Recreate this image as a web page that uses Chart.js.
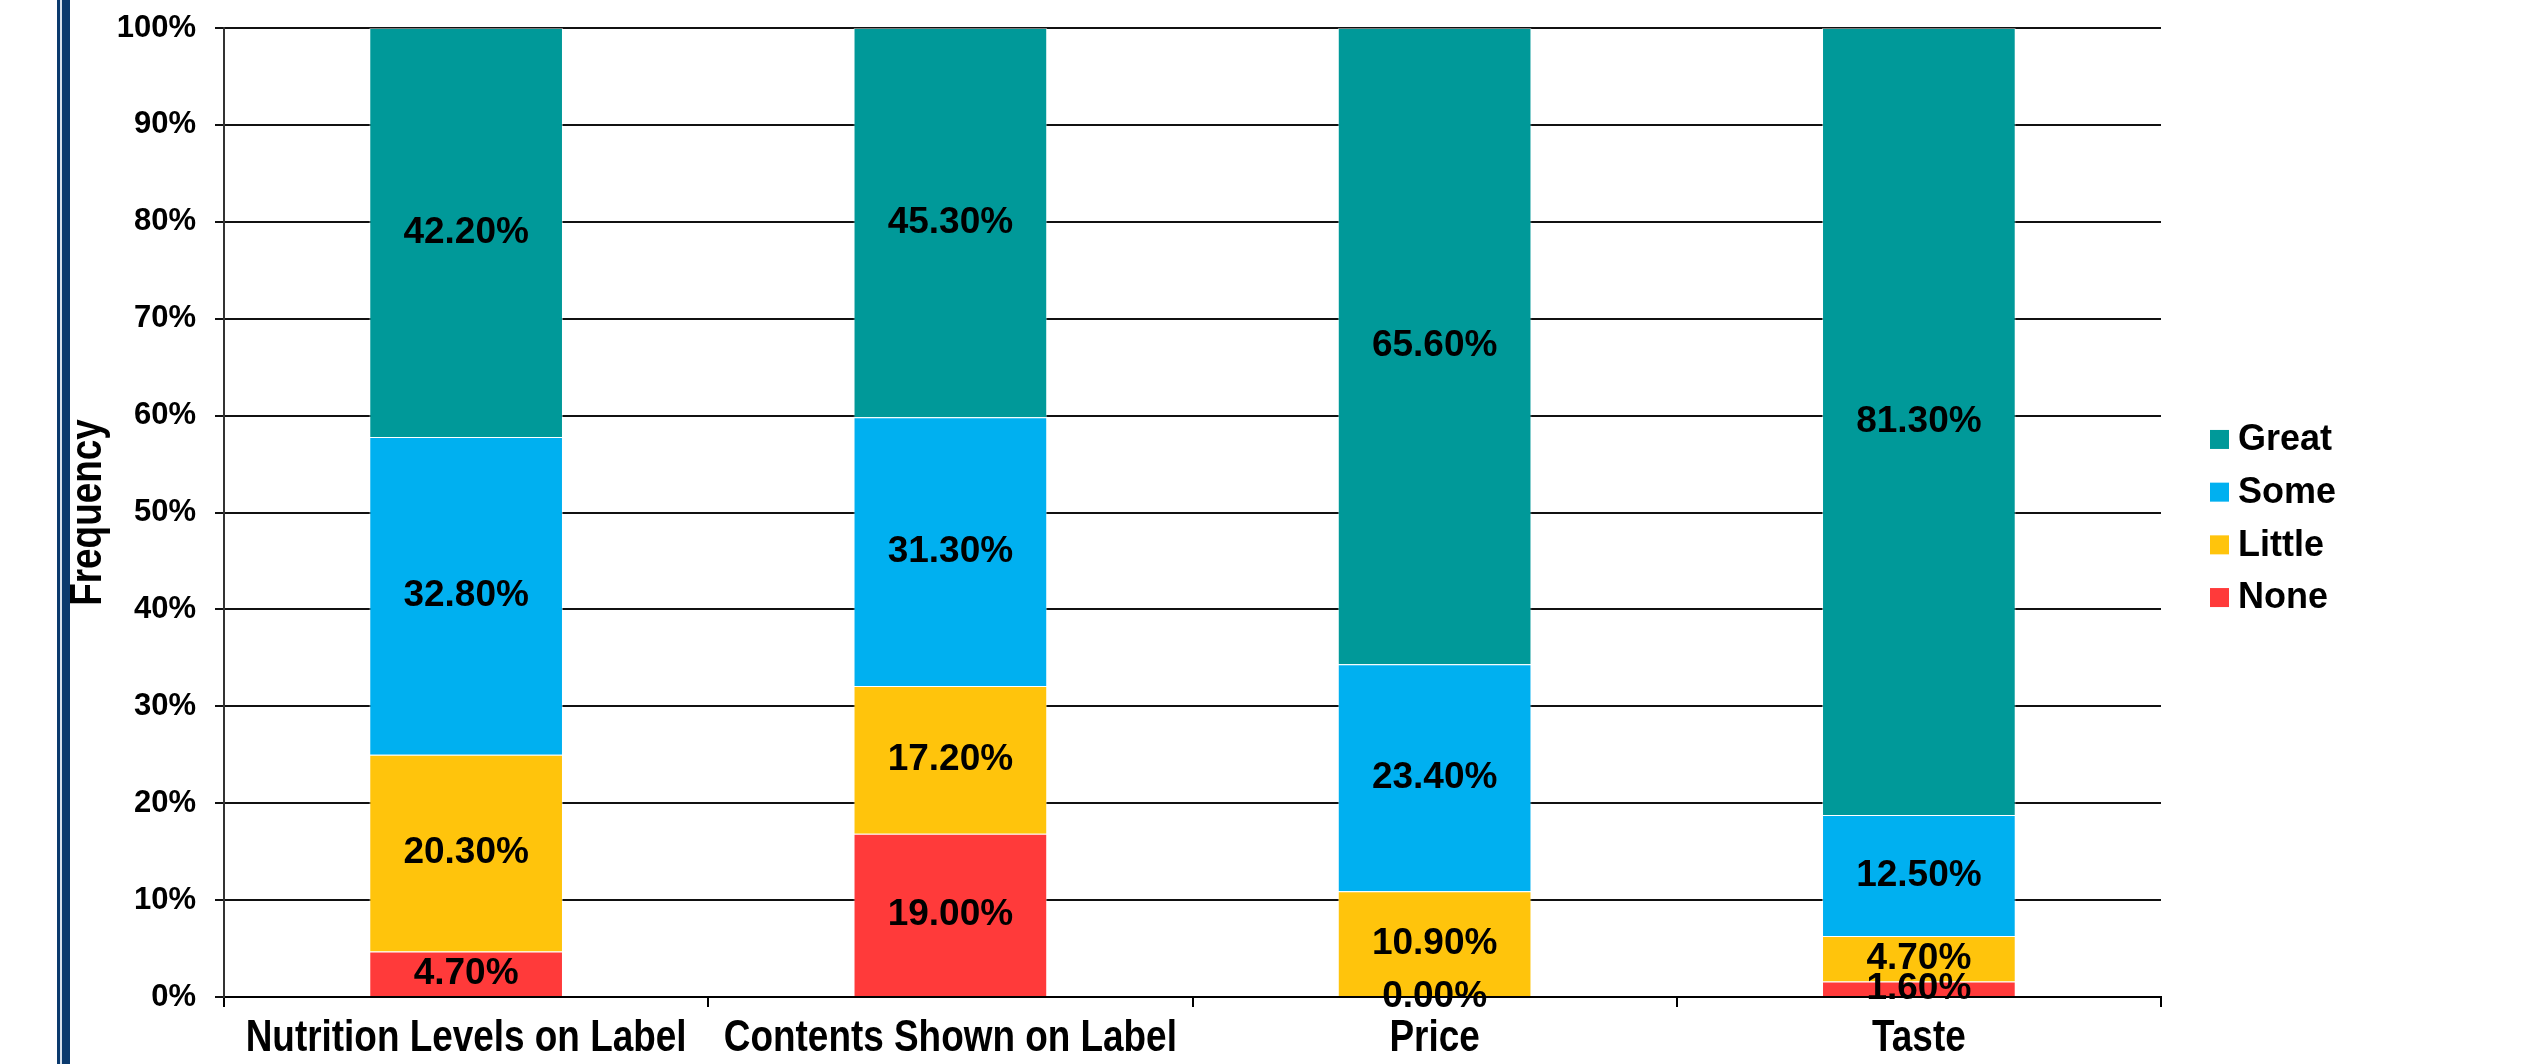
<!DOCTYPE html>
<html>
<head>
<meta charset="utf-8">
<title>Label factors by category</title>
<script src="https://cdn.jsdelivr.net/npm/chart.js@4.4.1/dist/chart.umd.min.js"></script>
<style>
  html, body { margin: 0; padding: 0; background: #fff; }
  #wrap { position: relative; width: 2546px; height: 1064px; overflow: hidden; }
  /* slide edge on the left */
  #edge { position: absolute; left: 57px; top: 0; width: 13px; height: 1064px;
          background: linear-gradient(to right, #0b3a6e 0, #0b3a6e 3px, #d6e0ec 3px, #d6e0ec 5px, #0b3a6e 5px); }
</style>
</head>
<body>
<div id="wrap">
  <div id="edge"></div>
  <canvas id="chart"></canvas>
</div>
<script>
// Survey answers per factor, in percent (rows do not always add up to 100)
const categories = ['Nutrition Levels on Label', 'Contents Shown on Label', 'Price', 'Taste'];
const noneVals   = [4.7, 19.0, 0.0, 1.6];
const littleVals = [20.3, 17.2, 10.9, 4.7];
const someVals   = [32.8, 31.3, 23.4, 12.5];
const greatVals  = [42.2, 45.3, 65.6, 81.3];
const yTicks = [0, 10, 20, 30, 40, 50, 60, 70, 80, 90, 100];
const yTitle = 'Frequency';

const FONT = "'Liberation Sans', Arial, sans-serif";
const NARROW = 0.82; // horizontal squeeze for the narrow-style captions

// 100% stacked: every column is scaled by its own total
const totals = categories.map((_, i) => noneVals[i] + littleVals[i] + someVals[i] + greatVals[i]);
const share = arr => arr.map((v, i) => v / totals[i] * 100);

const series = [
  { label: 'None',   raw: noneVals,   color: '#ff3a3a' },
  { label: 'Little', raw: littleVals, color: '#ffc40c' },
  { label: 'Some',   raw: someVals,   color: '#00b0f0' },
  { label: 'Great',  raw: greatVals,  color: '#009999' }
];

// raw value written in the middle of every segment
const segmentLabels = {
  id: 'segmentLabels',
  afterDatasetsDraw(chart) {
    const ctx = chart.ctx;
    ctx.save();
    ctx.font = 'bold 37px ' + FONT;
    ctx.fillStyle = '#000';
    ctx.textAlign = 'center';
    ctx.textBaseline = 'middle';
    chart.data.datasets.forEach((ds, di) => {
      const meta = chart.getDatasetMeta(di);
      meta.data.forEach((bar, i) => {
        const p = bar.getCenterPoint();
        ctx.fillText(ds.raw[i].toFixed(2) + '%', p.x, p.y);
      });
    });
    ctx.restore();
  }
};

// condensed category captions and the rotated axis title
const narrowText = {
  id: 'narrowText',
  afterDraw(chart) {
    const ctx = chart.ctx;
    const xs = chart.scales.x;
    const area = chart.chartArea;
    ctx.save();
    ctx.font = 'bold 45px ' + FONT;
    ctx.fillStyle = '#000';
    ctx.textAlign = 'center';
    ctx.textBaseline = 'middle';
    chart.data.labels.forEach((lab, i) => {
      ctx.save();
      ctx.translate(xs.getPixelForTick(i), xs.top + 42);
      ctx.scale(NARROW, 1);
      ctx.fillText(lab, 0, 0);
      ctx.restore();
    });
    ctx.save();
    ctx.translate(89, (area.top + area.bottom) / 2);
    ctx.rotate(-Math.PI / 2);
    ctx.scale(NARROW, 1);
    ctx.fillText(yTitle, 0, 0);
    ctx.restore();
    ctx.restore();
  }
};

// legend to the right of the plot, top series first
const sideLegend = {
  id: 'sideLegend',
  afterDraw(chart, args, opts) {
    const ctx = chart.ctx;
    const items = chart.data.datasets.slice().reverse();
    const x = chart.chartArea.right + opts.gap;
    const y0 = (chart.chartArea.top + chart.chartArea.bottom) / 2 - (items.length - 1) * opts.rowHeight / 2 + opts.shift;
    ctx.save();
    ctx.font = 'bold 36px ' + FONT;
    ctx.textBaseline = 'middle';
    ctx.textAlign = 'left';
    items.forEach((ds, i) => {
      const cy = y0 + i * opts.rowHeight;
      ctx.fillStyle = ds.backgroundColor;
      ctx.fillRect(x, cy - opts.box / 2, opts.box, opts.box);
      ctx.fillStyle = '#000';
      ctx.fillText(ds.label, x + opts.box + 9, cy + 1);
    });
    ctx.restore();
  }
};

new Chart(document.getElementById('chart'), {
  type: 'bar',
  data: {
    labels: categories,
    datasets: series.map(s => ({
      label: s.label,
      data: share(s.raw),
      raw: s.raw,
      backgroundColor: s.color,
      borderColor: 'rgba(255,255,255,0.45)',
      borderWidth: 1,
      barPercentage: 0.4,
      categoryPercentage: 1.0
    }))
  },
  options: {
    responsive: true,
    maintainAspectRatio: false,
    animation: false,
    layout: { padding: { left: 60, top: 28, right: 385, bottom: 0 } },
    plugins: {
      legend: { display: false },
      tooltip: { enabled: false },
      sideLegend: { gap: 49, rowHeight: 52.7, box: 19, shift: 6 }
    },
    scales: {
      x: {
        stacked: true,
        afterFit(scale) { scale.height = 67; },
        grid: { display: true, drawOnChartArea: false, offset: true, color: '#000', lineWidth: 2, tickLength: 10 },
        border: { color: '#000', width: 2 },
        ticks: { display: false }
      },
      y: {
        stacked: true,
        min: 0,
        max: 100,
        afterFit(scale) {
          scale.width = 164;
          scale.paddingTop = 0;
          scale.paddingBottom = 0;
        },
        afterBuildTicks(scale) { scale.ticks = yTicks.map(v => ({ value: v })); },
        grid: { color: '#111', lineWidth: 2, tickLength: 9 },
        border: { color: '#333', width: 2 },
        ticks: { color: '#000', padding: 19, callback: v => v + '%',
                 font: { family: FONT, size: 31, weight: 'bold' } }
      }
    }
  },
  plugins: [segmentLabels, narrowText, sideLegend]
});
</script>
</body>
</html>
